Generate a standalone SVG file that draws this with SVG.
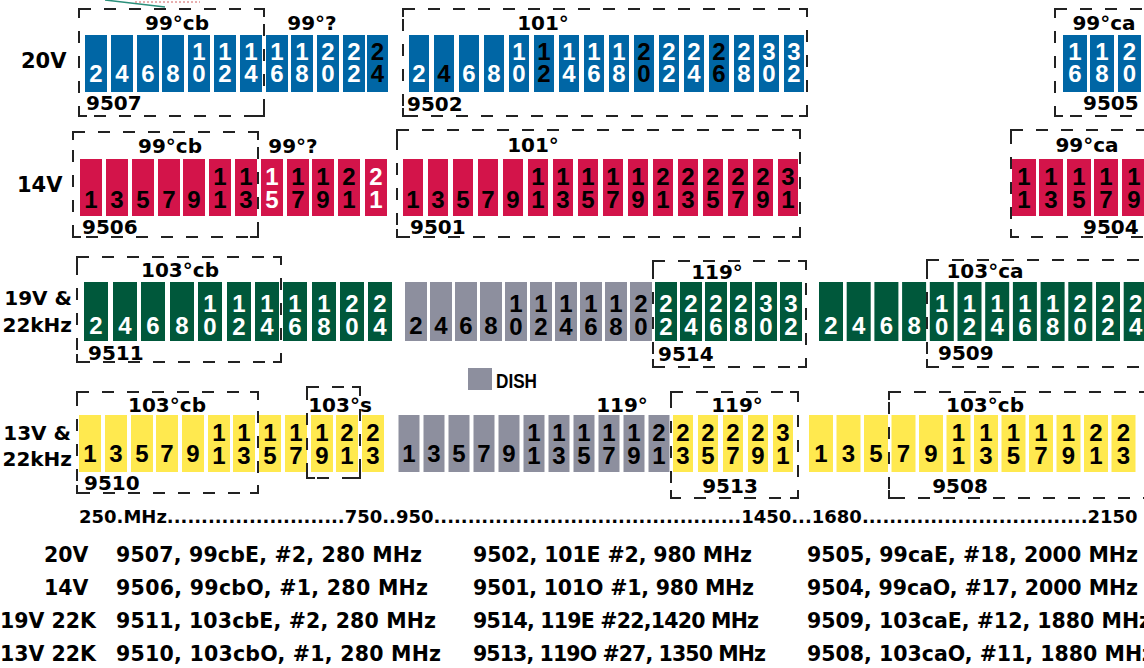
<svg xmlns="http://www.w3.org/2000/svg" width="1144" height="668" viewBox="0 0 1144 668">
<style>
.b{fill:#0066A5}.r{fill:#D3144A}.g{fill:#00583B}.k{fill:#8D8F9E}.y{fill:#FFE94F}
.v{font-family:"Liberation Sans",Arial,sans-serif;font-weight:bold;font-size:24px;writing-mode:vertical-rl;text-orientation:upright;letter-spacing:-4.5px;fill:#000}
.w{fill:#fff}
.lb{font-family:"DejaVu Sans",sans-serif;font-weight:bold;font-size:20px;fill:#000}
.c{text-anchor:middle}
.box{fill:none;stroke:#222;stroke-width:2;stroke-dasharray:12 13}
.cor{fill:none;stroke:#222;stroke-width:2}
.tb{font-family:"DejaVu Sans",sans-serif;font-weight:bold;font-size:20.5px;fill:#000}
</style>
<rect width="1144" height="668" fill="#fff"/>
<path d="M105,0 L165,7" stroke="#2a8f7a" stroke-width="1.5" fill="none"/>
<path d="M135,2 L200,2" stroke="#d06060" stroke-width="1" stroke-dasharray="2 2" fill="none"/>

<g id="row-labels" class="lb">
<text x="21" y="68" font-size="21">20V</text>
<text x="17" y="192" font-size="21">14V</text>
<text x="72" y="305" text-anchor="end">19V &amp;</text>
<text x="72" y="332" text-anchor="end">22kHz</text>
<text x="71" y="440" text-anchor="end">13V &amp;</text>
<text x="72" y="466" text-anchor="end">22kHz</text>
</g>

<!-- Row 1: 20V -->
<g id="n9507">
<g class="b">
<rect x="85" y="35" width="22" height="57"/><rect x="111" y="35" width="22" height="57"/><rect x="137" y="35" width="22" height="57"/><rect x="162" y="35" width="22" height="57"/><rect x="188" y="35" width="22" height="57"/><rect x="214" y="35" width="22" height="57"/><rect x="240" y="35" width="22" height="57"/><rect x="266" y="35" width="22" height="57"/><rect x="291" y="35" width="22" height="57"/><rect x="317" y="35" width="22" height="57"/><rect x="343" y="35" width="22" height="57"/><rect x="367" y="35" width="21" height="57"/>
</g>
<g class="v w">
<text x="96" y="60.3">2</text><text x="122" y="60.3">4</text><text x="148" y="60.3">6</text><text x="173" y="60.3">8</text>
<text x="199" y="37.8">10</text><text x="225" y="37.8">12</text><text x="251" y="37.8">14</text><text x="277" y="37.8">16</text><text x="302" y="37.8">18</text><text x="328" y="37.8">20</text><text x="354" y="37.8">22</text>
</g>
<text class="v" x="377.5" y="37.8">24</text>
<rect class="box" x="79" y="9" width="185" height="107"/>
<path class="cor" d="M79,17V9H87M256,9H264V17M264,108V116H256M87,116H79V108"/>
<text class="lb c" x="177" y="30">99°cb</text>
<text class="lb c" x="312" y="30">99°?</text>
<text class="lb" x="86" y="110">9507</text>
</g>

<g id="n9502">
<g class="b">
<rect x="409" y="35" width="20" height="57"/><rect x="434" y="35" width="20" height="57"/><rect x="459" y="35" width="20" height="57"/><rect x="484" y="35" width="20" height="57"/><rect x="509" y="35" width="20" height="57"/><rect x="534" y="35" width="20" height="57"/><rect x="559" y="35" width="20" height="57"/><rect x="584" y="35" width="20" height="57"/><rect x="609" y="35" width="20" height="57"/><rect x="634" y="35" width="20" height="57"/><rect x="659" y="35" width="20" height="57"/><rect x="684" y="35" width="20" height="57"/><rect x="709" y="35" width="20" height="57"/><rect x="734" y="35" width="20" height="57"/><rect x="759" y="35" width="20" height="57"/><rect x="784" y="35" width="20" height="57"/>
</g>
<g class="v w">
<text x="419" y="60.3">2</text><text x="469" y="60.3">6</text><text x="494" y="60.3">8</text>
<text x="519" y="37.8">10</text><text x="569" y="37.8">14</text><text x="594" y="37.8">16</text><text x="619" y="37.8">18</text><text x="669" y="37.8">22</text><text x="694" y="37.8">24</text><text x="744" y="37.8">28</text><text x="769" y="37.8">30</text><text x="794" y="37.8">32</text>
</g>
<g class="v">
<text x="444" y="60.3">4</text><text x="544" y="37.8">12</text><text x="644" y="37.8">20</text><text x="719" y="37.8">26</text>
</g>
<rect class="box" x="403" y="9" width="404" height="107"/>
<path class="cor" d="M403,17V9H411M799,9H807V17M807,108V116H799M411,116H403V108"/>
<text class="lb c" x="543" y="30">101°</text>
<text class="lb" x="407" y="111">9502</text>
</g>

<g id="n9505">
<g class="b">
<rect x="1063" y="35" width="24" height="57"/><rect x="1090" y="35" width="24" height="57"/><rect x="1118" y="35" width="23" height="57"/>
</g>
<g class="v w">
<text x="1075" y="37.8">16</text><text x="1102" y="37.8">18</text><text x="1129.5" y="37.8">20</text>
</g>
<rect class="box" x="1055" y="9" width="110" height="107"/>
<path class="cor" d="M1055,17V9H1063M1063,116H1055V108"/>
<text class="lb c" x="1104" y="30">99°ca</text>
<text class="lb" x="1083" y="110">9505</text>
</g>

<!-- Row 2: 14V -->
<g id="n9506">
<g class="r">
<rect x="80" y="159" width="22" height="57"/><rect x="106" y="159" width="22" height="57"/><rect x="132" y="159" width="22" height="57"/><rect x="158" y="159" width="22" height="57"/><rect x="183" y="159" width="22" height="57"/><rect x="209" y="159" width="22" height="57"/><rect x="235" y="159" width="22" height="57"/><rect x="261" y="159" width="22" height="57"/><rect x="287" y="159" width="22" height="57"/><rect x="312" y="159" width="22" height="57"/><rect x="338" y="159" width="22" height="57"/><rect x="365" y="159" width="22" height="57"/>
</g>
<g class="v">
<text x="91" y="186.3">1</text><text x="117" y="186.3">3</text><text x="143" y="186.3">5</text><text x="169" y="186.3">7</text><text x="194" y="186.3">9</text>
<text x="220" y="163.3">11</text><text x="246" y="163.3">13</text><text x="298" y="163.3">17</text><text x="323" y="163.3">19</text><text x="349" y="163.3">21</text>
</g>
<g class="v w">
<text x="272" y="163.3">15</text><text x="376" y="163.3">21</text>
</g>
<rect class="box" x="73" y="132" width="185" height="105"/>
<path class="cor" d="M73,140V132H81M250,132H258V140M258,229V237H250M81,237H73V229"/>
<text class="lb c" x="170" y="153">99°cb</text>
<text class="lb c" x="293" y="153">99°?</text>
<text class="lb" x="82" y="234">9506</text>
</g>

<g id="n9501">
<g class="r">
<rect x="403" y="159" width="20" height="57"/><rect x="428" y="159" width="20" height="57"/><rect x="453" y="159" width="20" height="57"/><rect x="478" y="159" width="20" height="57"/><rect x="503" y="159" width="20" height="57"/><rect x="528" y="159" width="20" height="57"/><rect x="553" y="159" width="20" height="57"/><rect x="578" y="159" width="20" height="57"/><rect x="603" y="159" width="20" height="57"/><rect x="628" y="159" width="20" height="57"/><rect x="653" y="159" width="20" height="57"/><rect x="678" y="159" width="20" height="57"/><rect x="703" y="159" width="20" height="57"/><rect x="728" y="159" width="20" height="57"/><rect x="753" y="159" width="20" height="57"/><rect x="778" y="159" width="20" height="57"/>
</g>
<g class="v">
<text x="413" y="186.3">1</text><text x="438" y="186.3">3</text><text x="463" y="186.3">5</text><text x="488" y="186.3">7</text><text x="513" y="186.3">9</text>
<text x="538" y="163.3">11</text><text x="563" y="163.3">13</text><text x="588" y="163.3">15</text><text x="613" y="163.3">17</text><text x="638" y="163.3">19</text><text x="663" y="163.3">21</text><text x="688" y="163.3">23</text><text x="713" y="163.3">25</text><text x="738" y="163.3">27</text><text x="763" y="163.3">29</text><text x="788" y="163.3">31</text>
</g>
<rect class="box" x="397" y="130" width="403" height="107"/>
<path class="cor" d="M397,138V130H405M792,130H800V138M800,229V237H792M405,237H397V229"/>
<text class="lb c" x="533" y="152">101°</text>
<text class="lb" x="410" y="234">9501</text>
</g>

<g id="n9504">
<g class="r">
<rect x="1012" y="159" width="24" height="57"/><rect x="1039" y="159" width="24" height="57"/><rect x="1067" y="159" width="24" height="57"/><rect x="1094" y="159" width="24" height="57"/><rect x="1122" y="159" width="22" height="57"/>
</g>
<g class="v">
<text x="1024" y="163.3">11</text><text x="1051" y="163.3">13</text><text x="1079" y="163.3">15</text><text x="1106" y="163.3">17</text><text x="1134" y="163.3">19</text>
</g>
<rect class="box" x="1011" y="130" width="150" height="107"/>
<path class="cor" d="M1011,138V130H1019M1019,237H1011V229"/>
<text class="lb c" x="1087" y="152">99°ca</text>
<text class="lb" x="1083" y="234">9504</text>
</g>

<!-- Row 3: 19V & 22kHz -->
<g id="n9511">
<g class="g">
<rect x="84" y="282" width="24" height="59"/><rect x="113" y="282" width="24" height="59"/><rect x="141" y="282" width="24" height="59"/><rect x="170" y="282" width="24" height="59"/><rect x="198" y="282" width="24" height="59"/><rect x="227" y="282" width="24" height="59"/><rect x="255" y="282" width="24" height="59"/><rect x="283" y="282" width="24" height="59"/><rect x="312" y="282" width="24" height="59"/><rect x="340" y="282" width="24" height="59"/><rect x="368" y="282" width="24" height="59"/>
</g>
<g class="v w">
<text x="96" y="312.3">2</text><text x="125" y="312.3">4</text><text x="153" y="312.3">6</text><text x="182" y="312.3">8</text>
<text x="210" y="290.3">10</text><text x="239" y="290.3">12</text><text x="267" y="290.3">14</text><text x="295" y="290.3">16</text><text x="324" y="290.3">18</text><text x="352" y="290.3">20</text><text x="380" y="290.3">24</text>
</g>
<rect class="box" x="77" y="257" width="204" height="105"/>
<path class="cor" d="M77,265V257H85M273,257H281V265M281,354V362H273M85,362H77V354"/>
<text class="lb c" x="180" y="277">103°cb</text>
<text class="lb" x="88" y="360">9511</text>
</g>

<g id="dish-19v">
<g class="k">
<rect x="405" y="282" width="22" height="59"/><rect x="430" y="282" width="22" height="59"/><rect x="455" y="282" width="22" height="59"/><rect x="480" y="282" width="22" height="59"/><rect x="505" y="282" width="22" height="59"/><rect x="530" y="282" width="22" height="59"/><rect x="555" y="282" width="22" height="59"/><rect x="580" y="282" width="22" height="59"/><rect x="605" y="282" width="22" height="59"/><rect x="630" y="282" width="22" height="59"/>
</g>
<g class="v">
<text x="416" y="312.3">2</text><text x="441" y="312.3">4</text><text x="466" y="312.3">6</text><text x="491" y="312.3">8</text>
<text x="516" y="290.3">10</text><text x="541" y="290.3">12</text><text x="566" y="290.3">14</text><text x="591" y="290.3">16</text><text x="616" y="290.3">18</text><text x="641" y="290.3">20</text>
</g>
</g>

<g id="n9514">
<g class="g">
<rect x="655" y="282" width="22" height="59"/><rect x="680" y="282" width="22" height="59"/><rect x="705" y="282" width="22" height="59"/><rect x="730" y="282" width="22" height="59"/><rect x="755" y="282" width="22" height="59"/><rect x="780" y="282" width="22" height="59"/>
</g>
<g class="v w">
<text x="666" y="290.3">22</text><text x="691" y="290.3">24</text><text x="716" y="290.3">26</text><text x="741" y="290.3">28</text><text x="766" y="290.3">30</text><text x="791" y="290.3">32</text>
</g>
<rect class="box" x="653" y="261" width="153" height="106"/>
<path class="cor" d="M653,269V261H661M798,261H806V269M806,359V367H798M661,367H653V359"/>
<text class="lb c" x="717" y="279">119°</text>
<text class="lb" x="658" y="361">9514</text>
</g>

<g id="n9509">
<g class="g">
<rect x="819" y="282" width="24" height="59"/><rect x="846.7" y="282" width="24" height="59"/><rect x="874.4" y="282" width="24" height="59"/><rect x="902.1" y="282" width="24" height="59"/><rect x="929.8" y="282" width="24" height="59"/><rect x="957.5" y="282" width="24" height="59"/><rect x="985.2" y="282" width="24" height="59"/><rect x="1012.9" y="282" width="24" height="59"/><rect x="1040.6" y="282" width="24" height="59"/><rect x="1068.3" y="282" width="24" height="59"/><rect x="1096" y="282" width="24" height="59"/><rect x="1123.7" y="282" width="24" height="59"/>
</g>
<g class="v w">
<text x="831" y="312.3">2</text><text x="858.7" y="312.3">4</text><text x="886.4" y="312.3">6</text><text x="914.1" y="312.3">8</text>
<text x="941.8" y="290.3">10</text><text x="969.5" y="290.3">12</text><text x="997.2" y="290.3">14</text><text x="1024.9" y="290.3">16</text><text x="1052.6" y="290.3">18</text><text x="1080.3" y="290.3">20</text><text x="1108" y="290.3">22</text><text x="1135.7" y="290.3">24</text>
</g>
<rect class="box" x="927" y="260" width="240" height="107"/>
<path class="cor" d="M927,268V260H935M935,367H927V359"/>
<text class="lb c" x="985" y="278">103°ca</text>
<text class="lb" x="938" y="360">9509</text>
</g>

<g id="legend-dish">
<rect class="k" x="468" y="368" width="24" height="22"/>
<text x="496" y="388" font-family="Liberation Sans, Arial, sans-serif" font-weight="bold" font-size="20" textLength="41" lengthAdjust="spacingAndGlyphs">DISH</text>
</g>

<!-- Row 4: 13V & 22kHz -->
<g id="n9510">
<g class="y">
<rect x="79" y="415" width="22" height="57"/><rect x="105" y="415" width="22" height="57"/><rect x="131" y="415" width="22" height="57"/><rect x="156" y="415" width="22" height="57"/><rect x="182" y="415" width="22" height="57"/><rect x="208" y="415" width="22" height="57"/><rect x="233" y="415" width="22" height="57"/><rect x="259" y="415" width="22" height="57"/><rect x="285" y="415" width="22" height="57"/><rect x="311" y="415" width="22" height="57"/><rect x="336" y="415" width="22" height="57"/><rect x="362" y="415" width="22" height="57"/>
</g>
<g class="v">
<text x="90" y="440.3">1</text><text x="116" y="440.3">3</text><text x="142" y="440.3">5</text><text x="167" y="440.3">7</text><text x="193" y="440.3">9</text>
<text x="219" y="419.3">11</text><text x="244" y="419.3">13</text><text x="270" y="419.3">15</text><text x="296" y="419.3">17</text><text x="322" y="419.3">19</text><text x="347" y="419.3">21</text><text x="373" y="419.3">23</text>
</g>
<rect class="box" x="77" y="392" width="181" height="101"/>
<path class="cor" d="M77,400V392H85M250,392H258V400M258,485V493H250M85,493H77V485"/>
<text class="lb c" x="167" y="412">103°cb</text>
<text class="lb" x="84" y="490">9510</text>
</g>

<g id="n103s">
<rect class="box" x="307" y="387" width="53" height="91"/>
<path class="cor" d="M307,395V387H315M352,387H360V395M360,470V478H352M315,478H307V470"/>
<text class="lb c" x="340" y="412">103°s</text>
</g>

<g id="dish-13v">
<g class="k">
<rect x="398.5" y="415" width="21" height="57"/><rect x="423.5" y="415" width="21" height="57"/><rect x="448.5" y="415" width="21" height="57"/><rect x="473.5" y="415" width="21" height="57"/><rect x="498.5" y="415" width="21" height="57"/><rect x="523.5" y="415" width="21" height="57"/><rect x="548.5" y="415" width="21" height="57"/><rect x="573.5" y="415" width="21" height="57"/><rect x="598.5" y="415" width="21" height="57"/><rect x="623.5" y="415" width="21" height="57"/><rect x="648.5" y="415" width="21" height="57"/>
</g>
<g class="v">
<text x="409" y="440.3">1</text><text x="434" y="440.3">3</text><text x="459" y="440.3">5</text><text x="484" y="440.3">7</text><text x="509" y="440.3">9</text>
<text x="534" y="419.3">11</text><text x="559" y="419.3">13</text><text x="584" y="419.3">15</text><text x="609" y="419.3">17</text><text x="634" y="419.3">19</text><text x="659" y="419.3">21</text>
</g>
<text class="lb c" x="622" y="412">119°</text>
</g>

<g id="n9513">
<g class="y">
<rect x="673" y="415" width="20" height="57"/><rect x="698" y="415" width="20" height="57"/><rect x="723" y="415" width="20" height="57"/><rect x="748" y="415" width="20" height="57"/><rect x="773" y="415" width="20" height="57"/>
</g>
<g class="v">
<text x="683" y="419.3">23</text><text x="708" y="419.3">25</text><text x="733" y="419.3">27</text><text x="758" y="419.3">29</text><text x="783" y="419.3">31</text>
</g>
<rect class="box" x="671" y="392" width="127" height="106"/>
<path class="cor" d="M671,400V392H679M790,392H798V400M798,490V498H790M679,498H671V490"/>
<text class="lb c" x="737" y="412">119°</text>
<text class="lb c" x="730" y="493">9513</text>
</g>

<g id="n9508">
<g class="y">
<rect x="809" y="415" width="24" height="57"/><rect x="836.5" y="415" width="24" height="57"/><rect x="864" y="415" width="24" height="57"/><rect x="891.5" y="415" width="24" height="57"/><rect x="919" y="415" width="24" height="57"/><rect x="946.5" y="415" width="24" height="57"/><rect x="974" y="415" width="24" height="57"/><rect x="1001.5" y="415" width="24" height="57"/><rect x="1029" y="415" width="24" height="57"/><rect x="1056.5" y="415" width="24" height="57"/><rect x="1084" y="415" width="24" height="57"/><rect x="1111.5" y="415" width="24" height="57"/>
</g>
<g class="v">
<text x="821" y="440.3">1</text><text x="848.5" y="440.3">3</text><text x="876" y="440.3">5</text><text x="903.5" y="440.3">7</text><text x="931" y="440.3">9</text>
<text x="958.5" y="419.3">11</text><text x="986" y="419.3">13</text><text x="1013.5" y="419.3">15</text><text x="1041" y="419.3">17</text><text x="1068.5" y="419.3">19</text><text x="1096" y="419.3">21</text><text x="1123.5" y="419.3">23</text>
</g>
<rect class="box" x="889" y="392" width="280" height="106"/>
<path class="cor" d="M889,400V392H897M897,498H889V490"/>
<text class="lb c" x="985" y="412">103°cb</text>
<text class="lb c" x="960" y="493">9508</text>
</g>

<g id="freq-scale">
<text x="79" y="523" font-family="DejaVu Sans, sans-serif" font-weight="bold" font-size="18">250.MHz..........................750..950.............................................1450...1680.................................2150</text>
</g>

<g id="table" class="tb" xml:space="preserve">
<text x="44" y="562">20V</text>
<text x="44" y="595">14V</text>
<text x="0" y="628">19V 22K</text>
<text x="0" y="661">13V 22K</text>
<text x="116" y="562" textLength="306">9507, 99cbE, #2, 280 MHz</text>
<text x="116" y="595" textLength="312">9506, 99cbO,  #1, 280 MHz</text>
<text x="116" y="628" textLength="320">9511, 103cbE,  #2, 280 MHz</text>
<text x="116" y="661" textLength="325">9510, 103cbO,  #1, 280 MHz</text>
<text x="473" y="562" textLength="279">9502, 101E #2, 980 MHz</text>
<text x="473" y="595" textLength="281">9501, 101O #1, 980 MHz</text>
<text x="473" y="628" textLength="286">9514, 119E #22,1420 MHz</text>
<text x="473" y="661" textLength="293">9513, 119O #27, 1350 MHz</text>
<text x="807" y="562" textLength="331">9505, 99caE, #18, 2000 MHz</text>
<text x="807" y="595" textLength="331">9504, 99caO, #17, 2000 MHz</text>
<text x="807" y="628">9509, 103caE, #12, 1880 MHz</text>
<text x="807" y="661">9508, 103caO, #11, 1880 MHz</text>
</g>
</svg>
